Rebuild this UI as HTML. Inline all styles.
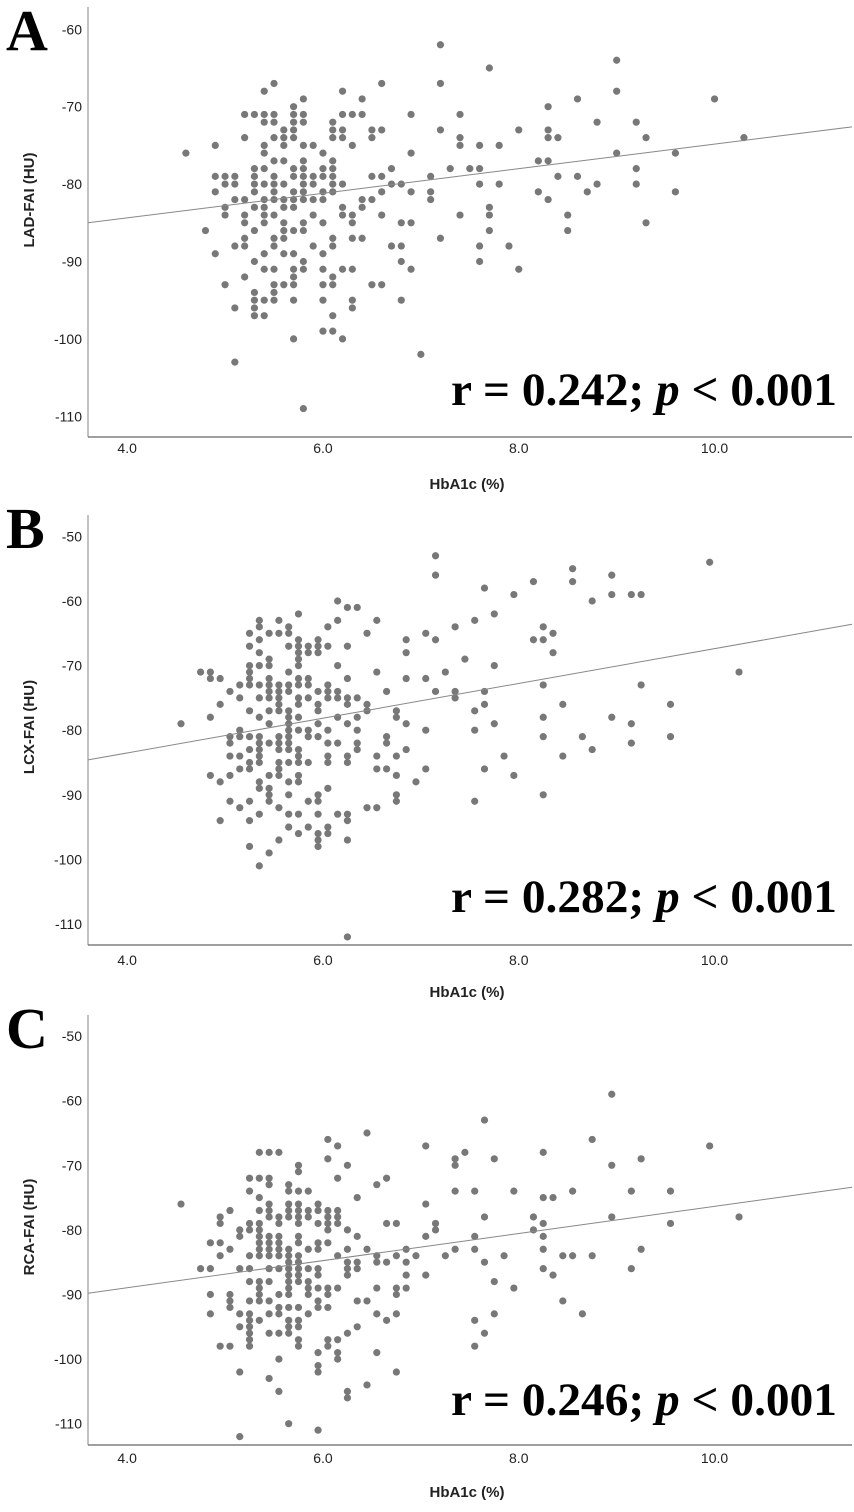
<!DOCTYPE html>
<html><head><meta charset="utf-8"><style>
html,body{margin:0;padding:0;background:#fff;}
svg{display:block;}
</style></head><body>
<svg id="fig" width="854" height="1512" viewBox="0 0 854 1512" xmlns="http://www.w3.org/2000/svg"></svg>
<script>
// ---- Data (HbA1c %, FAI HU), grouped by HU row: [HU, [HbA1c values]] ----
const ladRows = [
[-62,[7.2]],[-64,[9.0]],[-65,[7.7]],
[-67,[5.5,6.6,7.2]],[-68,[5.4,6.2,9.0]],[-69,[5.8,6.4,8.6,10.0]],[-70,[5.7,8.3]],
[-71,[5.2,5.3,5.4,5.5,5.7,5.8,6.2,6.3,6.4,6.9,7.4]],
[-72,[5.4,5.5,5.7,5.8,6.1,8.8,9.2]],
[-73,[5.6,5.7,6.1,6.2,6.5,6.6,7.2,8.0,8.3]],
[-74,[5.2,5.5,5.6,5.7,6.1,6.2,6.5,7.4,8.3,8.4,9.3,10.3]],
[-75,[4.9,5.4,5.6,5.8,5.9,6.3,7.4,7.6,7.8]],
[-76,[4.6,5.4,6.0,6.9,9.0,9.6]],
[-77,[5.5,5.6,5.8,6.1,8.2,8.3]],
[-78,[5.3,5.4,5.7,5.8,6.0,6.1,6.7,7.3,7.5,7.6,9.2]],
[-79,[4.9,5.0,5.1,5.3,5.5,5.7,5.8,5.9,6.0,6.1,6.5,6.6,7.1,8.4,8.6]],
[-80,[5.0,5.1,5.3,5.4,5.5,5.6,5.8,5.9,6.1,6.2,6.7,6.8,7.6,7.8,8.8,9.2]],
[-81,[4.9,5.3,5.5,5.7,5.8,6.0,6.1,6.6,6.9,7.1,8.2,8.7,9.6]],
[-82,[5.1,5.2,5.4,5.5,5.6,5.7,5.8,5.9,6.0,6.4,6.5,7.1,8.3]],
[-83,[5.0,5.3,5.4,5.6,5.7,6.2,6.4,7.7]],
[-84,[5.0,5.2,5.4,5.5,5.9,6.2,6.3,6.6,7.4,7.7,8.5]],
[-85,[5.2,5.4,5.6,5.8,6.0,6.3,6.8,6.9,9.3]],
[-86,[4.8,5.3,5.6,5.7,5.8,7.7,8.5]],
[-87,[5.2,5.5,5.6,6.1,6.3,6.4,7.2]],
[-88,[5.1,5.2,5.5,5.9,6.1,6.7,6.8,7.6,7.9]],
[-89,[4.9,5.4,5.6,5.7,6.0]],
[-90,[5.3,5.8,6.8,7.6]],
[-91,[5.4,5.5,5.7,5.8,6.0,6.2,6.3,6.9,8.0]],
[-92,[5.2,5.7,6.1]],
[-93,[5.0,5.5,5.6,5.7,6.0,6.1,6.5,6.6]],
[-94,[5.3,5.5]],
[-95,[5.3,5.4,5.5,5.7,6.0,6.3,6.8]],
[-96,[5.1,5.3,6.3]],
[-97,[5.3,5.4,6.1]],
[-99,[6.0,6.1]],[-100,[5.7,6.2]],[-102,[7.0]],[-103,[5.1]],[-109,[5.8]]
];
const lcxRows = [
[-53,[7.15]],[-54,[9.95]],[-55,[8.55]],[-56,[7.15,8.95]],[-57,[8.15,8.55]],[-58,[7.65]],
[-59,[7.95,8.95,9.15,9.25]],[-60,[6.15,8.75]],[-61,[6.25,6.35]],[-62,[5.75,7.75]],
[-63,[5.35,5.55,6.15,6.55,7.55]],
[-64,[5.35,5.65,6.05,7.35,8.25]],
[-65,[5.25,5.45,5.55,5.65,6.45,7.05,8.35]],
[-66,[5.35,5.75,5.95,6.85,7.15,8.15,8.25]],
[-67,[5.25,5.65,5.75,5.85,5.95,6.05,6.25]],
[-68,[5.35,5.75,5.85,5.95,6.85,8.35]],
[-69,[5.45,5.75,7.45]],
[-70,[5.25,5.35,5.45,5.75,6.15,7.75]],
[-71,[4.75,4.85,5.25,5.65,6.55,7.25,10.25]],
[-72,[4.85,4.95,5.25,5.45,5.75,5.85,6.25,6.85,7.05]],
[-73,[5.15,5.25,5.35,5.45,5.55,5.65,5.75,5.85,6.05,8.25,9.25]],
[-74,[5.05,5.45,5.55,5.65,5.95,6.05,6.15,6.65,7.15,7.35,7.65]],
[-75,[5.15,5.35,5.45,5.55,5.75,5.85,6.05,6.15,6.25,6.35,7.35]],
[-76,[4.95,5.55,5.75,5.95,6.25,6.45,7.65,8.45,9.55]],
[-77,[5.25,5.45,5.55,5.65,5.95,6.45,6.75,7.55]],
[-78,[4.85,5.35,5.65,5.75,6.15,6.35,6.75,8.25,8.95]],
[-79,[4.55,5.45,5.65,5.95,6.25,6.85,7.75,9.15]],
[-80,[5.15,5.65,5.75,5.85,6.05,6.35,7.05,7.55]],
[-81,[5.05,5.15,5.25,5.35,5.55,5.65,5.85,5.95,6.65,8.25,8.65,9.55]],
[-82,[5.05,5.35,5.45,5.55,5.65,6.05,6.15,6.35,6.65,9.15]],
[-83,[5.25,5.35,5.55,5.65,5.75,6.35,6.85,8.75]],
[-84,[5.05,5.15,5.35,5.75,6.05,6.25,6.55,6.75,7.85,8.45]],
[-85,[5.25,5.35,5.55,5.65,5.75,5.85,6.05,6.25]],
[-86,[5.15,5.25,5.55,6.55,6.65,7.05,7.65]],
[-87,[4.85,5.05,5.45,5.55,5.75,6.75,7.95]],
[-88,[4.95,5.35,5.65,5.75,6.95]],
[-89,[5.35,5.45,6.05]],
[-90,[5.45,5.65,5.95,6.75,8.25]],
[-91,[5.05,5.25,5.45,5.85,5.95,6.75,7.55]],
[-92,[5.15,5.55,6.45,6.55]],
[-93,[5.35,5.65,5.75,5.95,6.15,6.25]],
[-94,[4.95,5.25,6.25]],
[-95,[5.65,5.85,6.05]],
[-96,[5.75,5.95,6.05]],
[-97,[5.55,5.95,6.25]],
[-98,[5.25,5.95]],[-99,[5.45]],[-101,[5.35]],[-112,[6.25]]
];
const rcaRows = [
[-59,[8.95]],[-63,[7.65]],[-65,[6.45]],[-66,[6.05,8.75]],[-67,[6.15,7.05,9.95]],
[-68,[5.35,5.45,5.55,7.45,8.25]],
[-69,[6.05,7.35,7.75,9.25]],
[-70,[5.75,6.25,7.35,8.95]],
[-71,[5.75]],
[-72,[5.25,5.35,5.45,6.15,6.65]],
[-73,[5.45,5.65,6.55]],
[-74,[5.25,5.65,5.75,5.85,7.35,7.55,7.95,8.55,9.15,9.55]],
[-75,[5.35,6.35,8.25,8.35]],
[-76,[4.55,5.45,5.65,5.75,5.95,7.05]],
[-77,[5.05,5.35,5.45,5.65,5.75,5.85,5.95,6.05,6.15]],
[-78,[4.95,5.45,5.55,5.65,5.75,5.85,6.05,6.15,7.65,8.15,8.95,10.25]],
[-79,[4.95,5.25,5.35,5.55,5.75,5.95,6.05,6.15,6.65,6.75,7.15,8.25,9.55]],
[-80,[5.15,5.25,5.35,6.05,6.25,7.15,8.15]],
[-81,[5.15,5.35,5.45,5.55,5.75,6.35,7.05,7.55,8.25]],
[-82,[4.85,4.95,5.35,5.45,5.55,5.75,5.95,6.05]],
[-83,[5.05,5.35,5.45,5.55,5.65,5.85,5.95,6.25,6.45,6.85,7.35,7.55,8.25,9.25]],
[-84,[4.95,5.25,5.35,5.45,5.55,5.65,5.75,6.15,6.55,6.75,6.95,7.25,7.85,8.45,8.55,8.75]],
[-85,[5.65,5.75,6.25,6.35,6.55,6.65,6.85,7.65]],
[-86,[4.75,4.85,5.15,5.25,5.45,5.55,5.65,5.75,5.85,5.95,6.25,6.35,8.25,9.15]],
[-87,[5.65,5.75,5.95,6.25,6.85,7.05,8.35]],
[-88,[5.25,5.35,5.45,5.65,5.75,5.85,7.75]],
[-89,[5.35,5.65,5.85,5.95,6.05,6.15,6.55,6.75,6.85,7.95]],
[-90,[4.85,5.05,5.35,5.55,5.65,5.85,6.05,6.75]],
[-91,[5.05,5.25,5.35,5.45,5.95,6.35,6.45,8.45]],
[-92,[5.05,5.55,5.65,5.75,5.95,6.05]],
[-93,[4.85,5.15,5.25,5.45,5.55,5.85,6.55,6.75,7.75,8.65]],
[-94,[5.25,5.35,5.65,5.75,6.65,7.55]],
[-95,[5.15,5.25,5.65,5.75,6.35]],
[-96,[5.25,5.45,5.55,5.65,6.25,7.65]],
[-97,[5.25,5.75,6.05,6.15]],
[-98,[4.95,5.05,5.25,5.75,6.05,7.55]],
[-99,[5.95,6.15,6.55]],
[-100,[5.55,6.15]],[-101,[5.95]],[-102,[5.15,5.95,6.75]],[-103,[5.45]],
[-104,[6.45]],[-105,[5.55,6.25]],[-106,[6.25]],[-110,[5.65]],[-111,[5.95]],[-112,[5.15]]
];
// Regression line end values at x-domain ends [HU at xMin, HU at xMax]
const ladFit = [-85.0, -72.6];
const lcxFit = [-84.6, -63.6];
const rcaFit = [-89.8, -73.4];
const xTicks = [4.0, 6.0, 8.0, 10.0];
const ladYTicks = [-60, -70, -80, -90, -100, -110];
const lcxYTicks = [-50, -60, -70, -80, -90, -100, -110];
const rcaYTicks = [-50, -60, -70, -80, -90, -100, -110];
const panelLetters = ['A', 'B', 'C'];
const yTitles = ['LAD-FAI (HU)', 'LCX-FAI (HU)', 'RCA-FAI (HU)'];
const statLabels = ['0.242', '0.282', '0.246'];

const NS = 'http://www.w3.org/2000/svg';
const svg = document.getElementById('fig');
const X0 = 88, X1 = 852, XMIN = 3.6, PXU = 97.9;
const XMAX = XMIN + (X1 - X0) / PXU;
function xScale(v){ return X0 + (v - XMIN) * PXU; }

const panels = [
  {key:'lad', rows:ladRows, fit:ladFit, yt:ladYTicks, top:7, bot:437, y60:29.3, pxHU:7.74, xtY:448, xtitleY:484, yTitleY:200, letterY:50, statY:405},
  {key:'lcx', rows:lcxRows, fit:lcxFit, yt:lcxYTicks, top:515, bot:945, y60:601, pxHU:6.46, xtY:960, xtitleY:992, yTitleY:727, letterY:548, statY:912},
  {key:'rca', rows:rcaRows, fit:rcaFit, yt:rcaYTicks, top:1015, bot:1445, y60:1100.7, pxHU:6.46, xtY:1458, xtitleY:1492, yTitleY:1227, letterY:1048, statY:1415}
];

function mk(tag, attrs, parent){
  const e = document.createElementNS(NS, tag);
  for (const k in attrs) e.setAttribute(k, attrs[k]);
  (parent || svg).appendChild(e);
  return e;
}

panels.forEach((p, i) => {
  const yScale = v => p.y60 + (-60 - v) * p.pxHU;
  const g = mk('g', {});
  
  

  // panel letter
  const L = mk('text', {x: 6, y: p.letterY, 'font-family': 'Liberation Serif, serif', 'font-weight': 'bold', 'font-size': 58, fill: '#000'}, g);
  L.textContent = panelLetters[i];
  
  

  // axes
  const ya = mk('line', {x1: X0, y1: p.top, x2: X0, y2: p.bot, stroke: '#999', 'stroke-width': 1.2}, g);
  
  
  const xa = mk('line', {x1: X0, y1: p.bot, x2: X1, y2: p.bot, stroke: '#666', 'stroke-width': 1.2}, g);
  
  

  // y ticks
  p.yt.forEach(t => {
    const tx = mk('text', {x: 82, y: yScale(t) + 5, 'text-anchor': 'end', 'font-family': 'Liberation Sans, sans-serif', 'font-size': 14, fill: '#222'}, g);
    tx.textContent = String(t);
    
    
  });
  // x ticks
  xTicks.forEach(t => {
    const tx = mk('text', {x: xScale(t), y: p.xtY + 5, 'text-anchor': 'middle', 'font-family': 'Liberation Sans, sans-serif', 'font-size': 14, fill: '#222'}, g);
    tx.textContent = t.toFixed(1);
    
    
  });
  // titles
  const xt = mk('text', {x: 467, y: p.xtitleY + 5, 'text-anchor': 'middle', 'font-family': 'Liberation Sans, sans-serif', 'font-weight': 'bold', 'font-size': 15, fill: '#222'}, g);
  xt.textContent = 'HbA1c (%)';
  
  
  const yt = mk('text', {x: 0, y: 0, transform: 'translate(34,' + p.yTitleY + ') rotate(-90)', 'text-anchor': 'middle', 'font-family': 'Liberation Sans, sans-serif', 'font-weight': 'bold', 'font-size': 15, fill: '#222'}, g);
  yt.textContent = yTitles[i];
  
  

  // points
  p.rows.forEach(r => {
    const hu = r[0];
    r[1].forEach(hb => {
      const c = mk('circle', {cx: xScale(hb), cy: yScale(hu), r: 3.6, fill: '#787878'}, g);
      
      
    });
  });

  // regression line
  const ln = mk('line', {x1: xScale(XMIN), y1: yScale(p.fit[0]), x2: xScale(XMAX), y2: yScale(p.fit[1]), stroke: '#888', 'stroke-width': 1}, g);
  
  

  // stat text
  const st = mk('text', {x: 451, y: p.statY, 'font-family': 'Liberation Serif, serif', 'font-weight': 'bold', 'font-size': 47, fill: '#000', textLength: 386, lengthAdjust: 'spacingAndGlyphs'}, g);
  
  
  const s1 = mk('tspan', {}, st); s1.textContent = 'r = ' + statLabels[i] + '; ';
  const s2 = mk('tspan', {'font-style': 'italic'}, st); s2.textContent = 'p';
  const s3 = mk('tspan', {}, st); s3.textContent = ' < 0.001';
});
</script>
</body></html>
